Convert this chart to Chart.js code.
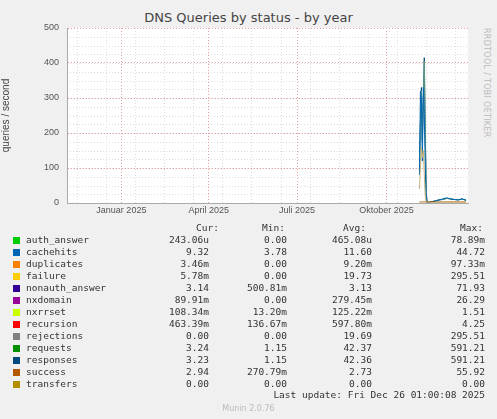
<!DOCTYPE html>
<html><head><meta charset="utf-8">
<script src="https://cdn.jsdelivr.net/npm/chart.js@4"></script>
<style>
body{margin:0;background:#f0f0f0;width:497px;height:419px;overflow:hidden;position:relative;font-family:"DejaVu Sans",sans-serif}
#t{position:absolute;top:10px;left:0;width:497px;text-align:center;font-size:13px;color:#444}
#rr{position:absolute;left:482px;top:28px;writing-mode:vertical-rl;font-size:8px;color:#bbb;letter-spacing:0.3px}
#c{position:absolute;left:0;top:0}
#leg{position:absolute;left:0;top:0;width:497px;height:419px;font-family:"DejaVu Sans Mono",monospace;font-size:9.5px;color:#333}
.row{position:absolute;white-space:pre}
.sw{position:absolute;width:7px;height:7px}
#mun{position:absolute;top:404px;width:497px;text-align:center;font-size:8px;color:#bbb}
</style></head><body>
<div id="t">DNS Queries by status - by year</div>
<div id="rr">RRDTOOL / TOBI OETIKER</div>
<canvas id="c" width="497" height="220"></canvas>
<div id="leg"></div>
<div id="mun">Munin 2.0.76</div>
<script>
// days since 2024-11-06
const days = [363, 364, 365, 366, 367, 368, 369, 370, 371, 383, 387, 391, 395, 399, 403, 407, 411];
const responses = [95, 230, 330, 180, 300, 415, 200, 30, 0, 9, 10, 13, 12, 10, 9, 11, 8];
const requests = [90, 225, 320, 175, 295, 405, 195, 28, 0, 9, 10, 13, 12, 10, 9, 11, 8];
const cachehits = [80, 320, 300, 120, 330, 250, 100, 10, 0, 8, 12, 15, 11, 10, 9, 12, 8];
const transfers = [40, 100, 160, 130, 150, 80, 20, 0, 0, 2, 3, 3, 2, 2, 2, 3, 2];
const success = [3, 3, 3, 3, 3, 3, 3, 3, 3, 3, 3, 3, 3, 3, 3, 3, 3];
const monthTicks = [56, 146, 237, 329];
const monthLabels = ['Januar 2025', 'April 2025', 'Juli 2025', 'Oktober 2025'];

const legendNames = ['auth_answer','cachehits','duplicates','failure','nonauth_answer','nxdomain','nxrrset','recursion','rejections','requests','responses','success','transfers'];
const legendColors = ['#00cc00','#0066b3','#ff8000','#ffcc00','#330099','#990099','#ccff00','#ff0000','#808080','#008f00','#00487d','#b35a00','#b38f00'];
const curVals = ['243.06u','9.32','3.46m','5.78m','3.14','89.91m','108.34m','463.39m','0.00','3.24','3.23','2.94','0.00'];
const minVals = ['0.00','3.78','0.00','0.00','500.81m','0.00','13.20m','136.67m','0.00','1.15','1.15','270.79m','0.00'];
const avgVals = ['465.08u','11.60','9.20m','19.73','3.13','279.45m','125.22m','597.80m','19.69','42.37','42.36','2.73','0.00'];
const maxVals = ['78.89m','44.72','97.33m','295.51','71.93','26.29','1.51','4.25','295.51','591.21','591.21','55.92','0.00'];

function pts(v) { return days.map((d, i) => ({x: d, y: v[i]})); }
function ds(v, c) { return {data: pts(v), borderColor: c, borderWidth: 1, pointRadius: 0, tension: 0}; }

new Chart(document.getElementById('c'), {
  type: 'line',
  data: {datasets: [
    ds(transfers, '#c8b47a'), ds(success, '#b35a00'), ds(cachehits, '#0066b3'),
    ds(requests, '#5a9a80'), ds(responses, '#00487d')
  ]},
  options: {
    responsive: false, animation: false,
    layout: {padding: {top: 28, right: 29, left: 0, bottom: 0}},
    plugins: {legend: {display: false}, tooltip: {enabled: false}},
    scales: {
      x: {type: 'linear', min: 0, max: 413,
        afterBuildTicks: s => { s.ticks = monthTicks.map(v => ({value: v})); },
        afterFit: s => { s.height = 17; },
        ticks: {callback: (v, i) => monthLabels[i], font: {size: 9}, color: '#555', padding: 2, maxRotation: 0},
        grid: {color: '#e8a0a0', tickLength: 0, drawTicks: false}, border: {color: '#aaa', dash: [1, 2]}},
      y: {min: 0, max: 500,
        afterFit: s => { s.width = 67; },
        ticks: {stepSize: 100, font: {size: 9}, color: '#555', padding: 8},
        grid: {color: '#e8a0a0', drawTicks: false}, border: {color: '#aaa', dash: [1, 2]},
        title: {display: true, text: 'queries / second', font: {size: 10}, color: '#444', padding: {top: 0, bottom: 12}}}
    }
  },
  plugins: [{id: 'bg', beforeDraw: c => {
    const a = c.chartArea, g = c.ctx;
    g.fillStyle = '#fff'; g.fillRect(a.left, a.top, a.right - a.left, a.bottom - a.top);
    g.save(); g.strokeStyle = '#ddd'; g.setLineDash([1, 2]); g.lineWidth = 1;
    for (let v = 25; v < 500; v += 25) { const y = Math.round(c.scales.y.getPixelForValue(v)) + 0.5; g.beginPath(); g.moveTo(a.left, y); g.lineTo(a.right, y); g.stroke(); }
    for (let d = 10; d < 413; d += 30) { const x = Math.round(c.scales.x.getPixelForValue(d)) + 0.5; g.beginPath(); g.moveTo(x, a.top); g.lineTo(x, a.bottom); g.stroke(); }
    g.restore();
  }}]
});

const leg = document.getElementById('leg');
function txt(s, x, y, right) {
  const e = document.createElement('div'); e.className = 'row'; e.textContent = s;
  e.style.top = y + 'px';
  if (right) e.style.right = (497 - x) + 'px'; else e.style.left = x + 'px';
  leg.appendChild(e);
}
txt('Cur:', 196, 222, false); txt('Min:', 262, 222, false); txt('Avg:', 343, 222, false); txt('Max:', 460, 222, false);
legendNames.forEach((n, i) => {
  const y = 234 + i * 12;
  const s = document.createElement('div'); s.className = 'sw'; s.style.left = '13px'; s.style.top = (y + 2.5) + 'px'; s.style.background = legendColors[i]; leg.appendChild(s);
  txt(n, 26, y, false);
  txt(curVals[i], 209, y, true); txt(minVals[i], 287, y, true); txt(avgVals[i], 372, y, true); txt(maxVals[i], 485, y, true);
});
txt('Last update: Fri Dec 26 01:00:08 2025', 485, 389, true);
</script></body></html>
